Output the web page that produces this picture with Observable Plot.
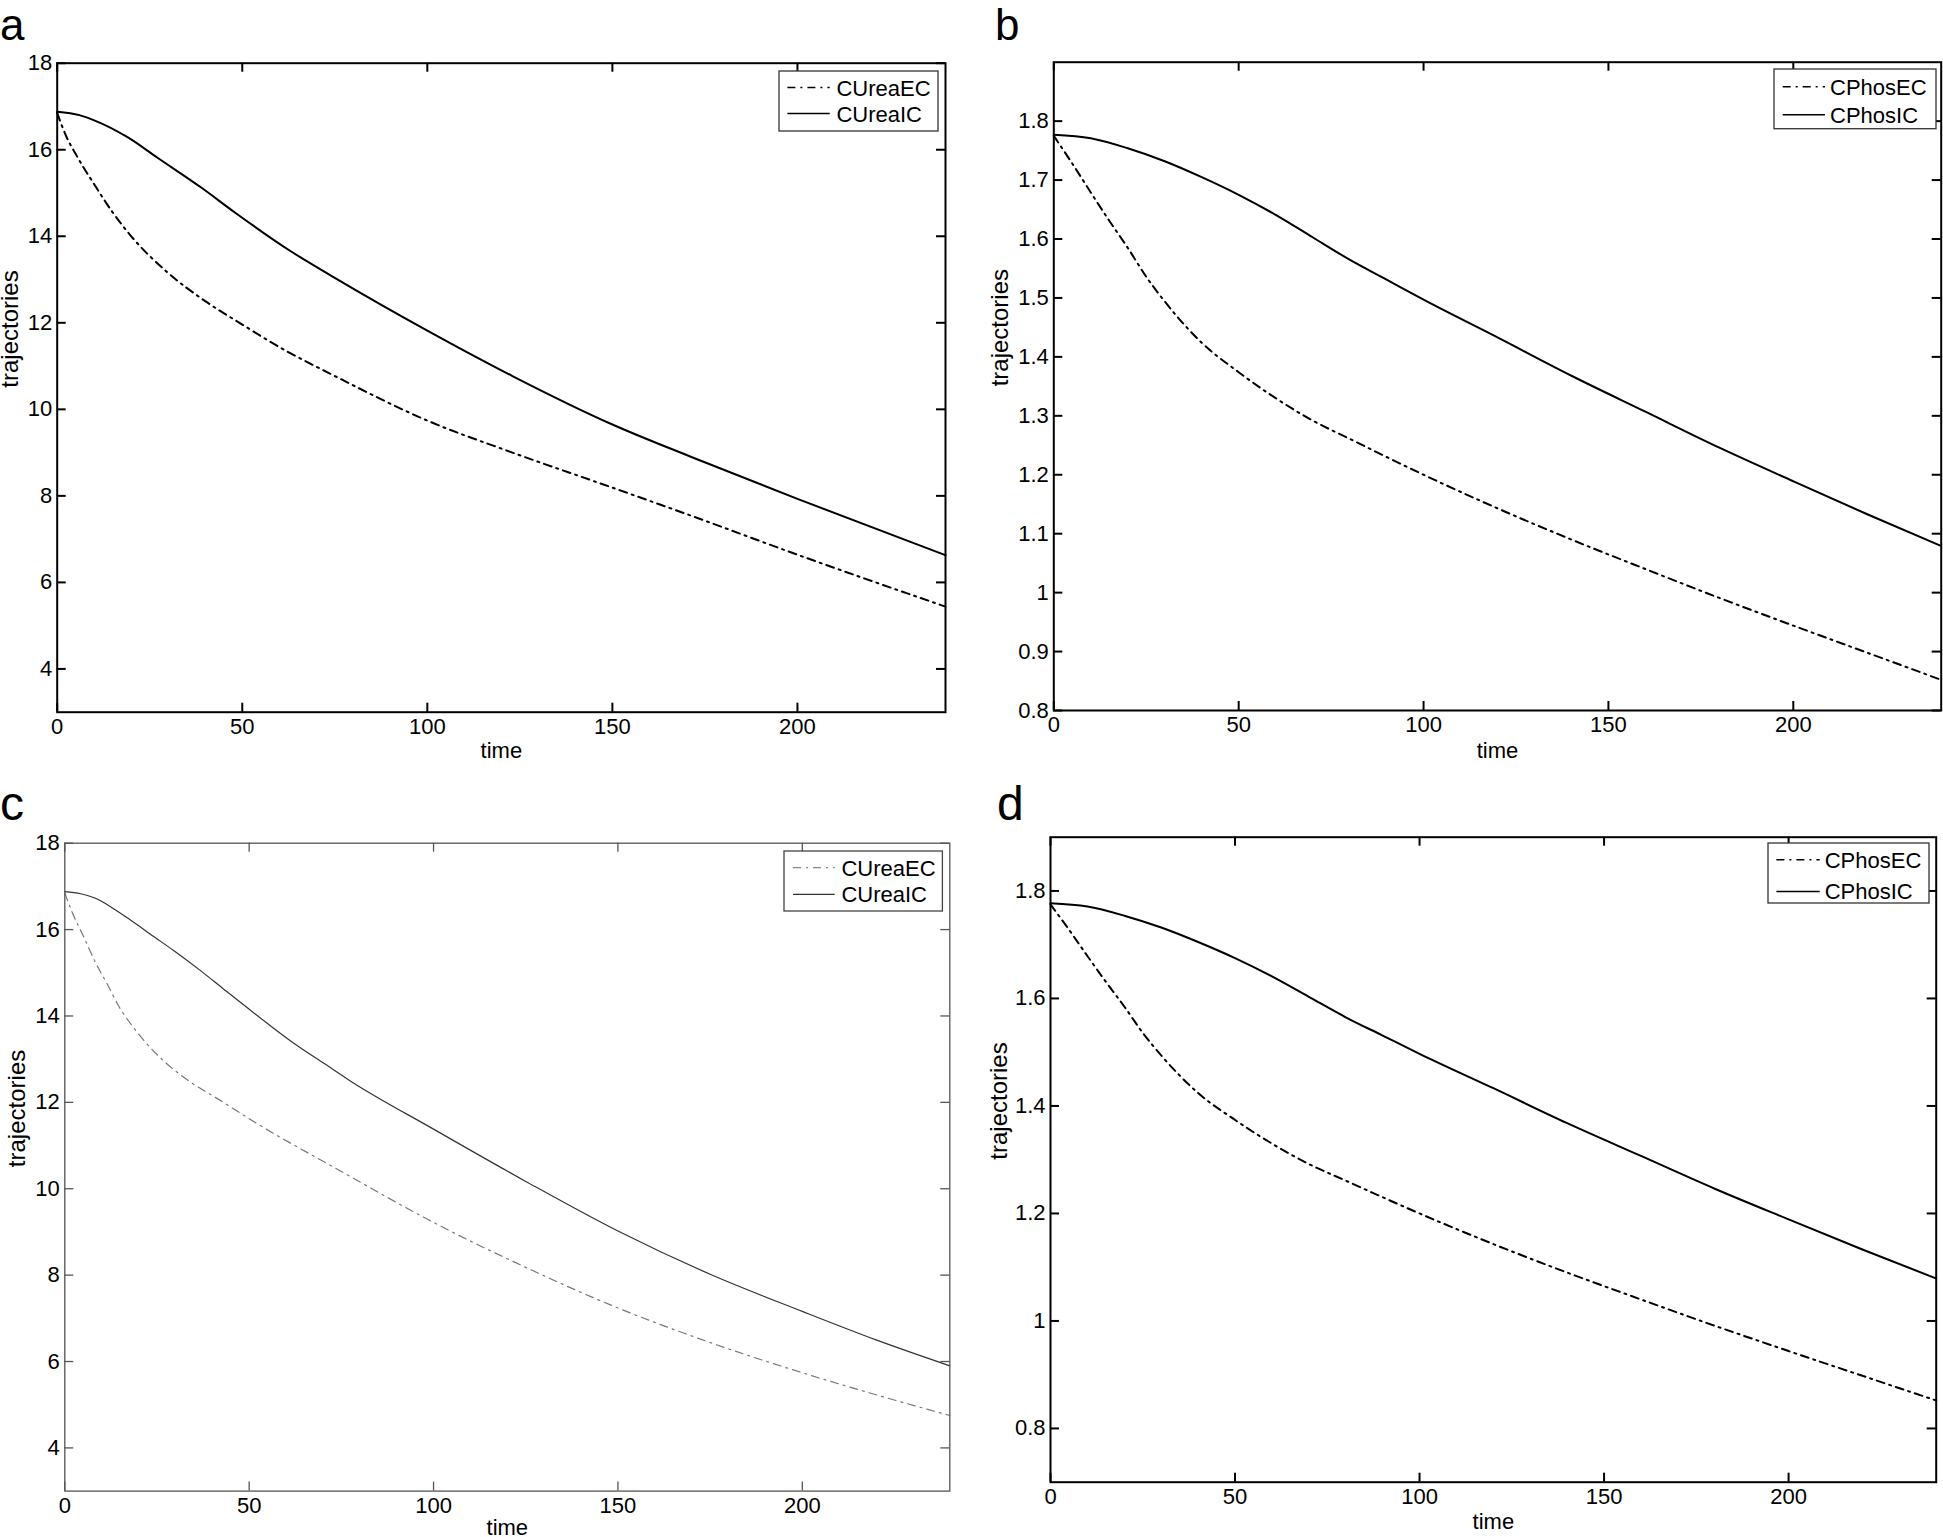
<!DOCTYPE html>
<html><head><meta charset="utf-8">
<script src="https://cdn.jsdelivr.net/npm/d3@7"></script>
<script src="https://cdn.jsdelivr.net/npm/@observablehq/plot@0.6"></script>
<style>
html,body{margin:0;padding:0;background:#fff;}
body{width:1943px;height:1537px;position:relative;overflow:hidden;font-family:"Liberation Sans",Arial,Helvetica,sans-serif;color:#000;}
.panel{position:absolute;}
.letter{position:absolute;line-height:0.7;color:#000;}
.legend{position:absolute;}
</style></head><body>
<script>
// ---------- data ----------
const xTicks = [0, 50, 100, 150, 200];
const yTicksUrea = [4, 6, 8, 10, 12, 14, 16, 18];
const yTicksPhosB = [0.8, 0.9, 1, 1.1, 1.2, 1.3, 1.4, 1.5, 1.6, 1.7, 1.8];
const yTicksPhosD = [0.8, 1, 1.2, 1.4, 1.6, 1.8];

// panel a
const tA_IC = [0, 6, 10, 19, 27, 39, 48, 63, 75, 100, 123, 150, 171, 200, 240];
const vA_IC = [16.88, 16.80, 16.68, 16.29, 15.82, 15.12, 14.55, 13.66, 13.04, 11.82, 10.77, 9.65, 8.91, 7.93, 6.63];
const tA_EC = [0, 2.5, 5, 10, 15, 20, 30, 40, 50, 60, 75, 100, 123, 150, 171, 200, 240];
const vA_EC = [16.85, 16.30, 15.90, 15.20, 14.55, 14.00, 13.15, 12.50, 11.96, 11.44, 10.77, 9.74, 9.00, 8.19, 7.55, 6.64, 5.44];

// panel b (and d, which shows the same trajectories)
const tB_IC = [0, 10, 20, 30, 40, 50, 60, 70, 80, 90, 100, 120, 140, 160, 180, 200, 220, 240];
const vB_IC = [1.777, 1.771, 1.754, 1.732, 1.705, 1.675, 1.641, 1.603, 1.565, 1.531, 1.497, 1.433, 1.368, 1.307, 1.246, 1.189, 1.133, 1.079];
const tB_EC = [0, 5, 10, 15, 20, 25, 30, 40, 50, 60, 70, 80, 100, 120, 140, 160, 180, 200, 220, 240];
const vB_EC = [1.775, 1.728, 1.679, 1.631, 1.585, 1.536, 1.494, 1.424, 1.374, 1.330, 1.292, 1.261, 1.200, 1.143, 1.090, 1.040, 0.991, 0.944, 0.898, 0.852];

// panel c
const tC_IC = [0, 4.3, 9.2, 12.4, 17.8, 24.1, 29.6, 36.8, 43.1, 54.9, 62.1, 70.7, 77, 100, 125, 150, 175, 200, 220, 240];
const vC_IC = [16.88, 16.83, 16.69, 16.53, 16.22, 15.84, 15.51, 15.05, 14.62, 13.83, 13.37, 12.88, 12.52, 11.38, 10.17, 9.02, 8.02, 7.16, 6.50, 5.90];
const tC_EC = [0, 2, 5.2, 8.3, 11.5, 14.6, 18.3, 22.3, 26.8, 31.8, 43, 50, 75, 100, 125, 150, 175, 200, 220, 240];
const vC_EC = [16.85, 16.40, 15.82, 15.24, 14.74, 14.23, 13.77, 13.35, 12.96, 12.61, 12.00, 11.62, 10.40, 9.22, 8.18, 7.24, 6.44, 5.74, 5.23, 4.75];

// ---------- drawing ----------
const fmt = d => String(+(+d).toFixed(2));
const DASHDOT = "8,5,2,5";
const FONT = '"Liberation Sans", Arial, sans-serif';

function panel(o) {
  const iw = o.width - o.ml - o.mr, ih = o.height - o.mt - o.mb;
  const ax = {stroke: o.axisColor, strokeWidth: o.axisWidth};
  const marks = [];
  for (const s of o.series) {
    marks.push(Plot.line(s.t.map((t, i) => ({t, v: s.v[i]})), {
      x: "t", y: "v", stroke: s.color, strokeWidth: s.width,
      strokeDasharray: s.dash, curve: "monotone-x"
    }));
  }
  marks.push(Plot.ruleX(o.xTicks, {...ax, insetTop: ih - 9}));
  marks.push(Plot.ruleX(o.xTicks, {...ax, insetBottom: ih - 9}));
  marks.push(Plot.ruleY(o.yTicks, {...ax, insetRight: iw - 9}));
  marks.push(Plot.ruleY(o.yTicks, {...ax, insetLeft: iw - 9}));
  marks.push(Plot.frame(ax));
  marks.push(Plot.axisX(o.xTicks, {tickSize: 0, tickPadding: 6, label: null, tickFormat: fmt, fontSize: 22, fill: "#000"}));
  marks.push(Plot.axisY(o.yTicks, {tickSize: 0, tickPadding: 5, label: null, tickFormat: fmt, fontSize: 22, fill: "#000"}));
  marks.push(Plot.text(["time"], {frameAnchor: "bottom", dy: o.timeDy, fontSize: 22, fill: "#000"}));
  marks.push(Plot.text(["trajectories"], {frameAnchor: "left", dx: -o.trajDx, rotate: -90, fontSize: 24, fill: "#000"}));
  const svg = Plot.plot({
    width: o.width, height: o.height,
    marginLeft: o.ml, marginRight: o.mr, marginTop: o.mt, marginBottom: o.mb,
    x: {domain: [0, 240], label: null},
    y: {domain: o.yDomain, label: null},
    style: {background: "transparent", color: "#000", fontFamily: FONT, fontSize: "22px", overflow: "visible"},
    marks
  });
  const div = document.createElement("div");
  div.className = "panel";
  div.style.left = o.left + "px";
  div.style.top = o.top + "px";
  div.appendChild(svg);
  document.body.appendChild(div);
}

function legend(o) {
  const ns = "http://www.w3.org/2000/svg";
  const svg = document.createElementNS(ns, "svg");
  svg.setAttribute("width", o.w + 2);
  svg.setAttribute("height", o.h + 2);
  svg.setAttribute("class", "legend");
  svg.style.left = (o.x - 1) + "px";
  svg.style.top = (o.y - 1) + "px";
  let html = `<rect x="1" y="1" width="${o.w}" height="${o.h}" fill="#fff" stroke="${o.border}" stroke-width="1.3"/>`;
  o.items.forEach((it, i) => {
    const cy = 1 + o.rows[i];
    html += `<line x1="${1 + o.s1}" x2="${1 + o.s2}" y1="${cy}" y2="${cy}" stroke="${it.color}" stroke-width="${it.width}" ${it.dash ? `stroke-dasharray="${it.dash}"` : ""}/>`;
    html += `<text x="${1 + o.tx}" y="${cy}" dy="0.36em" font-size="22" fill="#000" font-family='${FONT}'>${it.name}</text>`;
  });
  svg.innerHTML = html;
  document.body.appendChild(svg);
}

function letter(ch, x, y, size) {
  const d = document.createElement("div");
  d.className = "letter";
  d.textContent = ch;
  d.style.fontSize = size + "px";
  d.style.left = x + "px";
  d.style.top = y + "px";
  document.body.appendChild(d);
}

const solidBlack = {color: "#000", width: 2};
const dashBlack = {color: "#000", width: 2, dash: DASHDOT};

// a
panel({left: 0, top: 0, width: 960, height: 780, ml: 56.7, mr: 15, mt: 62.7, mb: 68.3,
  yDomain: [3, 18], xTicks, yTicks: yTicksUrea, axisColor: "#000", axisWidth: 2, timeDy: 46, trajDx: 46.7,
  series: [{t: tA_EC, v: vA_EC, ...dashBlack}, {t: tA_IC, v: vA_IC, ...solidBlack}]});
// b
panel({left: 980, top: 0, width: 963, height: 780, ml: 73.3, mr: 2.3, mt: 61.7, mb: 70,
  yDomain: [0.8, 1.9], xTicks, yTicks: yTicksPhosB, axisColor: "#000", axisWidth: 2, timeDy: 47, trajDx: 53,
  series: [{t: tB_EC, v: vB_EC, ...dashBlack}, {t: tB_IC, v: vB_IC, ...solidBlack}]});
// c
panel({left: 0, top: 780, width: 960, height: 757, ml: 64.3, mr: 10.7, mt: 62.7, mb: 46.4,
  yDomain: [3, 18], xTicks, yTicks: yTicksUrea, axisColor: "#555", axisWidth: 1.3, timeDy: 44, trajDx: 47.3,
  series: [{t: tC_EC, v: vC_EC, color: "#777", width: 1.2, dash: DASHDOT}, {t: tC_IC, v: vC_IC, color: "#333", width: 1.2}]});
// d
panel({left: 980, top: 780, width: 963, height: 757, ml: 70, mr: 7.3, mt: 56.7, mb: 55.3,
  yDomain: [0.7, 1.9], xTicks, yTicks: yTicksPhosD, axisColor: "#000", axisWidth: 2, timeDy: 47, trajDx: 51.4,
  series: [{t: tB_EC, v: vB_EC, ...dashBlack}, {t: tB_IC, v: vB_IC, ...solidBlack}]});

legend({x: 779.3, y: 70.7, w: 159, h: 60, rows: [16.6, 42.6], s1: 8.4, s2: 50.7, tx: 57.4, border: "#333",
  items: [{name: "CUreaEC", ...dashBlack, width: 1.5}, {name: "CUreaIC", ...solidBlack, width: 1.5}]});
legend({x: 1774, y: 69.3, w: 162, h: 59.7, rows: [17.7, 45.7], s1: 8.7, s2: 51, tx: 56, border: "#333",
  items: [{name: "CPhosEC", ...dashBlack, width: 1.5}, {name: "CPhosIC", ...solidBlack, width: 1.5}]});
legend({x: 784.3, y: 850.7, w: 158.4, h: 60, rows: [16.6, 43.3], s1: 9, s2: 50.7, tx: 57.4, border: "#444",
  items: [{name: "CUreaEC", color: "#888", width: 1.3, dash: DASHDOT}, {name: "CUreaIC", color: "#333", width: 1.2}]});
legend({x: 1768.3, y: 843.3, w: 161, h: 60, rows: [16.7, 48.4], s1: 8.4, s2: 51.7, tx: 56.7, border: "#333",
  items: [{name: "CPhosEC", ...dashBlack, width: 1.5}, {name: "CPhosIC", ...solidBlack, width: 1.5}]});

// panel letters
letter("a", 0, 9.5, 44);
letter("b", 995, 9.5, 44);
letter("c", 0, 786.5, 48);
letter("d", 997, 786.5, 48);
</script>
</body></html>
